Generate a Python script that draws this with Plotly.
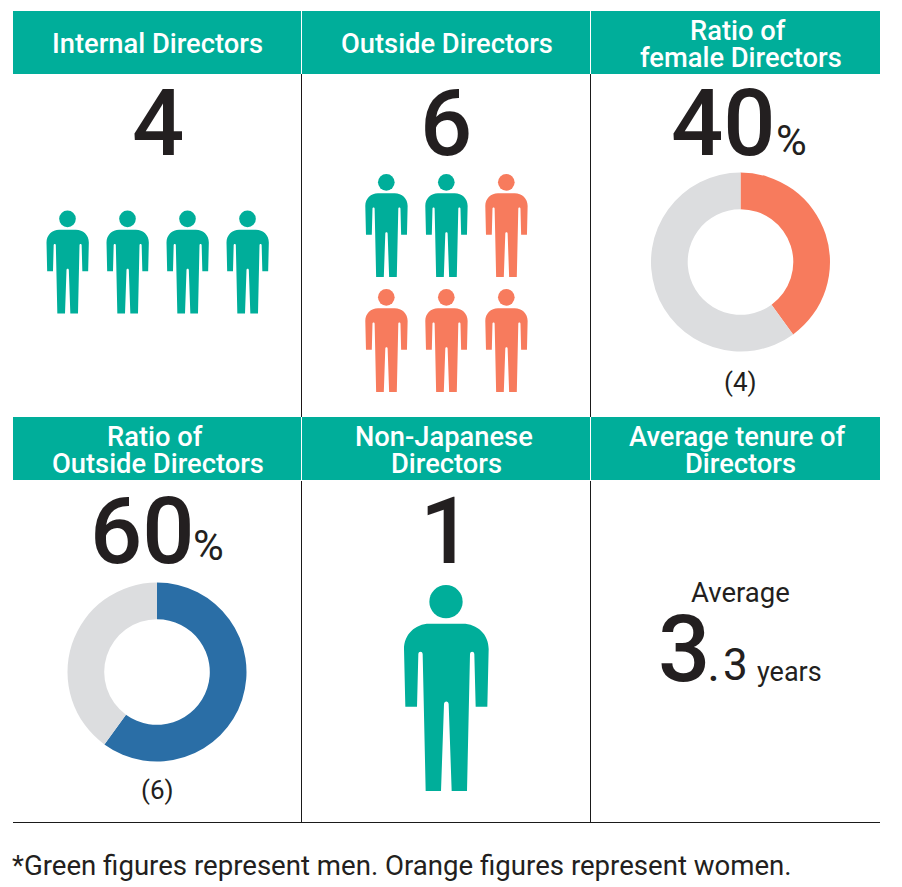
import plotly.graph_objects as go

W, H = 902, 887
GREEN = "#00AE9A"
ORANGE = "#F77B5D"
BLUE = "#2A6EA6"
GREY = "#DCDDDF"
INK = "#231F20"

# ---- data ----
header_labels = [["Internal Directors"], ["Outside Directors"], ["Ratio of", "female Directors"],
                 ["Ratio of", "Outside Directors"], ["Non-Japanese", "Directors"], ["Average tenure of", "Directors"]]
outside_genders = ["m", "m", "f", "f", "f", "f"]
internal_genders = ["m", "m", "m", "m"]
non_japanese_genders = ["m"]
female_ratio = [40, 60]
outside_ratio = [60, 40]
female_count_label = "(4)"
outside_count_label = "(6)"
tenure_label = "3"
tenure_decimal = ".3"
footer = "*Green figures represent men. Orange figures represent women."

# layout helpers
col_x = [13, 302, 591, 880]
col_mid = [157.5, 446.5, 740.5]
head_rows = [(11, 74), (417, 480)]
FONT = "Roboto"

shapes = []
annotations = []


def rect(x0, y0, x1, y1, color):
    shapes.append(dict(type="rect", xref="x", yref="y", x0=x0, x1=x1, y0=y0, y1=y1,
                       fillcolor=color, line_width=0, layer="below"))


def line(x0, y0, x1, y1, color="#1a1a1a", w=1):
    shapes.append(dict(type="line", xref="x", yref="y", x0=x0, x1=x1, y0=y0, y1=y1,
                       line=dict(color=color, width=w)))


def text(x, y, s, size, color=INK, anchor="center", weight=400):
    annotations.append(dict(x=x, y=y, xref="x", yref="y", text=s, showarrow=False,
                            xanchor=anchor, yanchor="middle", align="center",
                            font=dict(family=FONT, size=size, color=color, weight=weight)))


def person(cx, top, scale, color):
    """Person pictogram; template units are px of the large figure, relative to centre x / head top."""
    s = scale

    def P(x, y):
        return f"{cx + (x - 168) / 3 * s:.2f},{top + (y - 30) / 3 * s:.2f}"
    path = (
        "M" + P(118, 146) + " L" + P(218, 146) +
        " C" + P(262, 146) + " " + P(296, 178) + " " + P(296, 222) +
        " L" + P(292, 395) + " L" + P(257, 395) + " L" + P(253, 238) +
        " C" + P(253, 228) + " " + P(240, 228) + " " + P(240, 238) +
        " L" + P(231, 648) + " L" + P(185, 648) + " L" + P(176, 388) +
        " C" + P(176, 377) + " " + P(162, 377) + " " + P(162, 388) +
        " L" + P(153, 648) + " L" + P(107, 648) + " L" + P(98, 238) +
        " C" + P(98, 228) + " " + P(85, 228) + " " + P(85, 238) +
        " L" + P(81, 395) + " L" + P(46, 395) + " L" + P(42, 222) +
        " C" + P(42, 178) + " " + P(76, 146) + " " + P(118, 146) + " Z"
    )
    shapes.append(dict(type="path", xref="x", yref="y", path=path, fillcolor=color, line_width=0))
    r = 50 / 3 * s
    cy = top + r
    shapes.append(dict(type="circle", xref="x", yref="y", x0=cx - r, x1=cx + r, y0=cy - r, y1=cy + r,
                       fillcolor=color, line_width=0))


# header bars and titles
for r, (y0, y1) in enumerate(head_rows):
    for c in range(3):
        x0 = col_x[c]
        x1 = col_x[c + 1] - (1 if c < 2 else 0)
        rect(x0, y0, x1, y1, GREEN)
        lines = header_labels[r * 3 + c]
        if len(lines) == 1:
            text(col_mid[c], (y0 + y1) / 2 + 1, lines[0], 27.3, "white", weight=500)
        else:
            text(col_mid[c] - 3, y0 + 20, lines[0], 27.3, "white", weight=500)
            text(col_mid[c], y0 + 47, lines[1], 27.3, "white", weight=500)

# grid
for x in (301.5, 590.5):
    line(x, 74, x, 417)
    line(x, 481, x, 822)
line(13, 822.5, 880, 822.5)

# big numbers
text(158, 123, str(len(internal_genders)), 92, weight=500)
text(446, 123, str(len(outside_genders)), 92, weight=500)
text(723.5, 123, "40", 92, weight=500)
text(791.5, 140, "%", 42)
text(142, 531, "60", 92, weight=500)
text(208, 545, "%", 42)
text(446, 531, str(len(non_japanese_genders)), 92, weight=500)

# pictograms
for i, g in enumerate(internal_genders):
    person(67.5 + 60 * i, 210.5, 0.5, GREEN if g == "m" else ORANGE)
for i, g in enumerate(outside_genders):
    person(386.3 + 60 * (i % 3), 174 + 115 * (i // 3), 0.5, GREEN if g == "m" else ORANGE)
person(446, 585, 1, GREEN)

# count labels
text(740, 382, female_count_label, 26)
text(157, 790, outside_count_label, 26)

# tenure
text(740, 592, "Average", 27.5)
text(684, 649, tenure_label, 92, weight=500)
text(713.5, 667, ".", 40, weight=500)
text(735.5, 665, tenure_decimal[1:], 44)
text(789.5, 672, "years", 27)

# footer
text(10, 865, footer, 27.6, anchor="left")


def donut(values, colors, cx, cy, r):
    return go.Pie(values=values, marker=dict(colors=colors, line=dict(width=0)), hole=0.59, sort=False,
                  direction="clockwise", rotation=0, textinfo="none", hoverinfo="skip", showlegend=False,
                  domain=dict(x=[(cx - r) / W, (cx + r) / W], y=[1 - (cy + r) / H, 1 - (cy - r) / H]))


fig = go.Figure()
fig.add_trace(donut(female_ratio, [ORANGE, GREY], 740.5, 262, 89.5))
fig.add_trace(donut(outside_ratio, [BLUE, GREY], 157, 672, 89.5))

fig.update_layout(
    width=W, height=H, margin=dict(l=0, r=0, t=0, b=0), paper_bgcolor="white", plot_bgcolor="rgba(0,0,0,0)",
    xaxis=dict(range=[0, W], visible=False, fixedrange=True, domain=[0, 1]),
    yaxis=dict(range=[H, 0], visible=False, fixedrange=True, domain=[0, 1]),
    shapes=shapes, annotations=annotations, showlegend=False,
)
fig.write_html("out.html", config=dict(displayModeBar=False),
               post_script="document.body.style.margin='0';document.body.style.overflow='hidden';")
